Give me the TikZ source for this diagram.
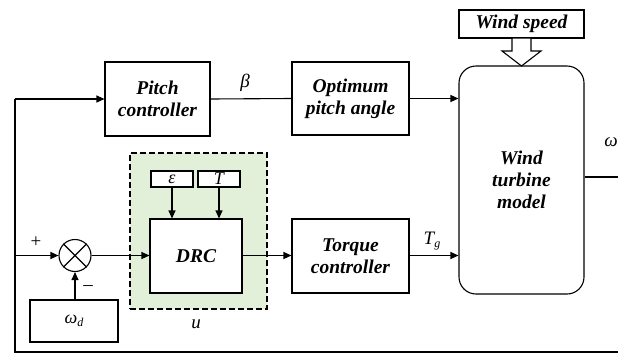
\documentclass[tikz,border=0pt]{standalone}
\usepackage{fontspec}
\newfontfamily\blkfont{Liberation Serif}
\usetikzlibrary{arrows.meta}
\newcommand{\sbs}[1]{\raisebox{-0.35ex}{\fontsize{12}{12}\selectfont #1}}
\begin{document}
\begin{tikzpicture}[x=1pt,y=-1pt,
  blk/.style={draw,line width=1.1pt,align=center,inner sep=0pt,
    font=\fontsize{19.5}{22}\selectfont\blkfont\bfseries\itshape},
  small/.style={draw,line width=1.1pt,inner sep=0pt,font=\fontsize{18}{18}\selectfont\blkfont\itshape},
  lab/.style={inner sep=0pt,font=\fontsize{19}{19}\selectfont\blkfont\itshape},
  wire/.style={line width=1.1pt},
  arr/.style={wire,-{Triangle[length=8pt,width=7pt]}}]
\useasboundingbox (0,0) rectangle (618,354);
\clip (0,0) rectangle (618,354);
% dashed green region
\node[draw,dashed,dash pattern=on 6pt off 3pt,line width=1.1pt,fill={rgb,255:red,226;green,239;blue,217},
  minimum width=137pt,minimum height=156pt,inner sep=0pt] (grp) at (198.5,231) {};
\node[blk,minimum width=105pt,minimum height=74pt] (pitch) at (157.5,99) {Pitch\\controller};
\node[blk,minimum width=117pt,minimum height=73pt] (opt) at (350.5,98.5) {Optimum\\pitch angle};
\node[blk,rounded corners=17pt,minimum width=125pt,minimum height=228pt] (wt) at (521.5,180) {Wind\\turbine\\model};
\node[blk,minimum width=125pt,minimum height=28pt] (ws) at (521.5,24) {Wind speed};
\node[small,fill=white,minimum width=42pt,minimum height=16pt] (eps) at (172,179) {ε};
\node[small,fill=white,minimum width=42pt,minimum height=16pt] (tt) at (219,179) {T};
\node[blk,fill=white,minimum width=92pt,minimum height=74pt] (drc) at (196,256) {DRC};
\node[draw,circle,line width=1.1pt,minimum size=32pt,inner sep=0pt] (sum) at (75,255.5) {};
\draw[line width=1.1pt] (sum.45) -- (sum.225) (sum.135) -- (sum.315);
\node[small,minimum width=88pt,minimum height=42pt] (wd) at (74,321) {ω\sbs{d}};
\node[blk,minimum width=117pt,minimum height=74pt] (tq) at (350.5,256) {Torque\\controller};
% hollow arrow
\draw[line width=1.1pt,fill=white] (512,38) -- (531,38) -- (531,51) -- (541,51) -- (521.5,66) -- (502,51) -- (512,51) -- cycle;
% connectors
\coordinate (fbR) at (618,352);
\coordinate (fbL) at (15,352);
\coordinate (oR) at (618,177);
\draw[wire] (pitch.east) -- (opt.west);
\draw[arr] (opt.east) -- (opt.east -| wt.west);
\draw[wire] (wt.east |- oR) -- (oR);
\draw[wire] (fbR) -- (fbL) -- (fbL |- pitch.west);
\draw[arr] (fbL |- pitch.west) -- (pitch.west);
\draw[arr] (fbL |- sum.west) -- (sum.west);
\draw[arr] (sum.east) -- (sum.east -| drc.west);
\draw[arr] (wd.north -| sum.south) -- (sum.south);
\draw[arr] (eps.south) -- (eps.south |- drc.north);
\draw[arr] (tt.south) -- (tt.south |- drc.north);
\draw[arr] (drc.east |- sum.east) -- (tq.west |- sum.east);
\draw[arr] (tq.east |- sum.east) -- (wt.west |- sum.east);
% labels
\node[lab] (lb) at (245,83) {β};
\node[lab] (lw) at (611,142) {ω};
\node[lab] (ltg) at (432,241) {T\sbs{g}};
\node[lab,font=\fontsize{19}{19}\selectfont\blkfont] (lp) at (36,242) {+};
\node[lab,font=\fontsize{19}{19}\selectfont\blkfont] (lm) at (88,288) {–};
\node[lab] (lu) at (196,324) {u};
\end{tikzpicture}
\end{document}
